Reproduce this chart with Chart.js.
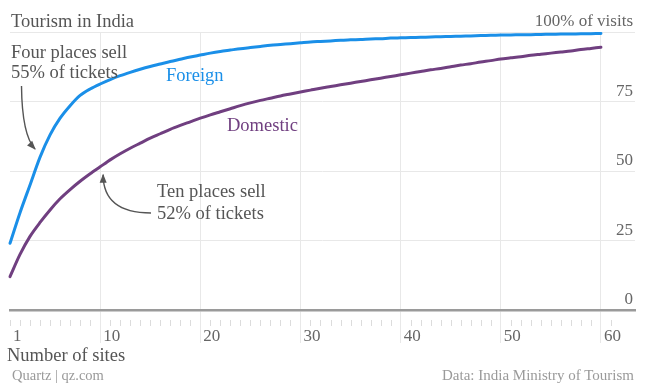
<!DOCTYPE html>
<html>
<head>
<meta charset="utf-8">
<script src="https://cdn.jsdelivr.net/npm/chart.js@4/dist/chart.umd.min.js"></script>
<style>
  html, body { margin: 0; padding: 0; background: #fff; }
  #wrap { position: relative; width: 645px; height: 385px; overflow: hidden; font-family: "Liberation Serif", serif; }
  #c { position: absolute; left: 0; top: 0; }
  .t { position: absolute; white-space: nowrap; font-size: 18.5px; line-height: 18.5px; color: #555; }
  .src { position: absolute; white-space: nowrap; font-size: 14.5px; line-height: 14.5px; color: #9a9a9a; }
</style>
</head>
<body>
<div id="wrap">
  <canvas id="c" width="645" height="385"></canvas>
  <div class="t" style="left:11px; top:12px;">Tourism in India</div>
  <div class="t" style="left:11px; top:43px; line-height:19.5px;">Four places sell<br>55% of tickets</div>
  <div class="t" style="left:166px; top:66px; color:#1a8fe8;">Foreign</div>
  <div class="t" style="left:227px; top:116px; color:#703f80;">Domestic</div>
  <div class="t" style="left:157px; top:181px; line-height:21.5px;">Ten places sell<br>52% of tickets</div>
  <div class="t" style="left:7px; top:346px;">Number of sites</div>
  <div class="src" style="left:12px; top:368px;">Quartz | qz.com</div>
  <div class="src" style="right:11px; top:368px; font-size:15px;">Data: India Ministry of Tourism</div>
</div>
<script>
const sites = [1,2,3,4,5,6,7,8,9,10,11,12,13,14,15,16,17,18,19,20,21,22,23,24,25,26,27,28,29,30,
               31,32,33,34,35,36,37,38,39,40,41,42,43,44,45,46,47,48,49,50,51,52,53,54,55,56,57,58,59,60];
const foreign = [24,35,45,55,63,69,73.5,77.2,79.5,81.3,82.9,84.3,85.5,86.6,87.6,88.5,89.4,90.2,91,91.7,
                 92.4,93,93.5,94,94.4,94.8,95.2,95.5,95.8,96.1,96.4,96.6,96.8,97,97.2,97.3,97.5,97.6,97.8,97.9,
                 98,98.1,98.2,98.3,98.4,98.5,98.6,98.7,98.8,98.9,98.95,99,99.05,99.1,99.2,99.25,99.3,99.35,99.4,99.5];
const domestic = [12,20,26.5,31.5,36,40,43.3,46.3,49,51.5,54,56.2,58.2,60,61.8,63.4,65,66.4,67.7,69,
                  70.2,71.3,72.4,73.5,74.5,75.4,76.2,77,77.7,78.4,79.1,79.8,80.4,81,81.6,82.2,82.8,83.4,84,84.6,
                  85.2,85.8,86.4,86.9,87.5,88.1,88.6,89.2,89.7,90.3,90.7,91.1,91.6,92,92.4,92.8,93.2,93.7,94.1,94.5];
const xTicks = [1,10,20,30,40,50,60];
const yTicks = [0,25,50,75,100];
const seriesNames = ['Foreign','Domestic'];
const seriesColors = ['#1a8fe8','#703f80'];

const GRID = '#e8e8e8';

const decor = {
  id: 'decor',
  afterDatasetsDraw(chart) {
    const ctx = chart.ctx, xs = chart.scales.x, ys = chart.scales.y;
    ctx.save();
    // minor ticks at every site
    ctx.strokeStyle = '#dcdcdc';
    ctx.lineWidth = 1;
    for (let i = 1; i <= 61; i++) {
      if (i % 10 === 0) continue;
      const px = Math.round(xs.getPixelForValue(i)) + 0.5;
      ctx.beginPath();
      ctx.moveTo(px, ys.bottom + 10);
      ctx.lineTo(px, ys.bottom + 16);
      ctx.stroke();
    }
    // arrows
    function arrow(sx, sy, cx, cy, ex, ey) {
      ctx.strokeStyle = '#555';
      ctx.fillStyle = '#555';
      ctx.lineWidth = 1.4;
      ctx.beginPath();
      ctx.moveTo(sx, sy);
      ctx.quadraticCurveTo(cx, cy, ex, ey);
      ctx.stroke();
      const a = Math.atan2(ey - cy, ex - cx);
      const L = 8, W = 3.5;
      ctx.beginPath();
      ctx.moveTo(ex + Math.cos(a) * 1, ey + Math.sin(a) * 1);
      ctx.lineTo(ex - Math.cos(a) * L - Math.sin(a) * W, ey - Math.sin(a) * L + Math.cos(a) * W);
      ctx.lineTo(ex - Math.cos(a) * L + Math.sin(a) * W, ey - Math.sin(a) * L - Math.cos(a) * W);
      ctx.closePath();
      ctx.fill();
    }
    const t1x = xs.getPixelForValue(sites[3]) - 5, t1y = ys.getPixelForValue(foreign[3]) - 8;
    arrow(21.5, 86, 22, 135, t1x, t1y);
    const t2x = xs.getPixelForValue(sites[9]) + 3, t2y = ys.getPixelForValue(domestic[9]) + 8;
    arrow(151, 213, t2x, 213, t2x, t2y);
    ctx.restore();
  }
};

new Chart(document.getElementById('c'), {
  type: 'line',
  data: {
    labels: sites,
    datasets: [
      { label: seriesNames[0], data: sites.map((s, i) => ({x: s, y: foreign[i]})), borderColor: seriesColors[0],
        borderWidth: 3, pointRadius: 0, tension: 0.3, clip: 6, borderCapStyle: 'round', borderJoinStyle: 'round' },
      { label: seriesNames[1], data: sites.map((s, i) => ({x: s, y: domestic[i]})), borderColor: seriesColors[1],
        borderWidth: 3, pointRadius: 0, tension: 0.3, clip: 6, borderCapStyle: 'round', borderJoinStyle: 'round' }
    ]
  },
  options: {
    responsive: false,
    animation: false,
    events: [],
    layout: { padding: { left: 10, right: 10, top: 32, bottom: 0 } },
    plugins: { legend: { display: false }, tooltip: { enabled: false }, title: { display: false } },
    scales: {
      x: {
        type: 'linear', min: 1, max: 63.4, position: 'bottom',
        afterBuildTicks: s => { s.ticks = xTicks.map(v => ({ value: v })); },
        afterFit: s => { s.height = 75; },
        grid: {
          color: c => (c.tick && c.tick.value === 1) ? 'rgba(0,0,0,0)' : GRID,
          tickColor: c => (c.tick && c.tick.value === 1) ? 'rgba(0,0,0,0)' : GRID,
          lineWidth: 1, drawTicks: true, tickLength: 33
        },
        border: { display: true, color: '#9a9a9a', width: 2.5 },
        ticks: {
          autoSkip: false, maxRotation: 0, align: 'start', padding: -17, labelOffset: 3,
          color: '#666', font: { family: 'Liberation Serif', size: 17 },
          callback: v => String(v)
        }
      },
      y: {
        min: 0, max: 100, position: 'right',
        afterBuildTicks: s => { s.ticks = yTicks.map(v => ({ value: v })); },
        afterFit: s => { s.width = 0; },
        grid: { color: GRID, lineWidth: 1, drawTicks: false },
        border: { display: false },
        ticks: {
          mirror: true, padding: -2, labelOffset: -10,
          color: '#666', font: { family: 'Liberation Serif', size: 17 },
          callback: v => v === 100 ? '100% of visits' : String(v)
        }
      }
    }
  },
  plugins: [decor]
});
</script>
</body>
</html>
